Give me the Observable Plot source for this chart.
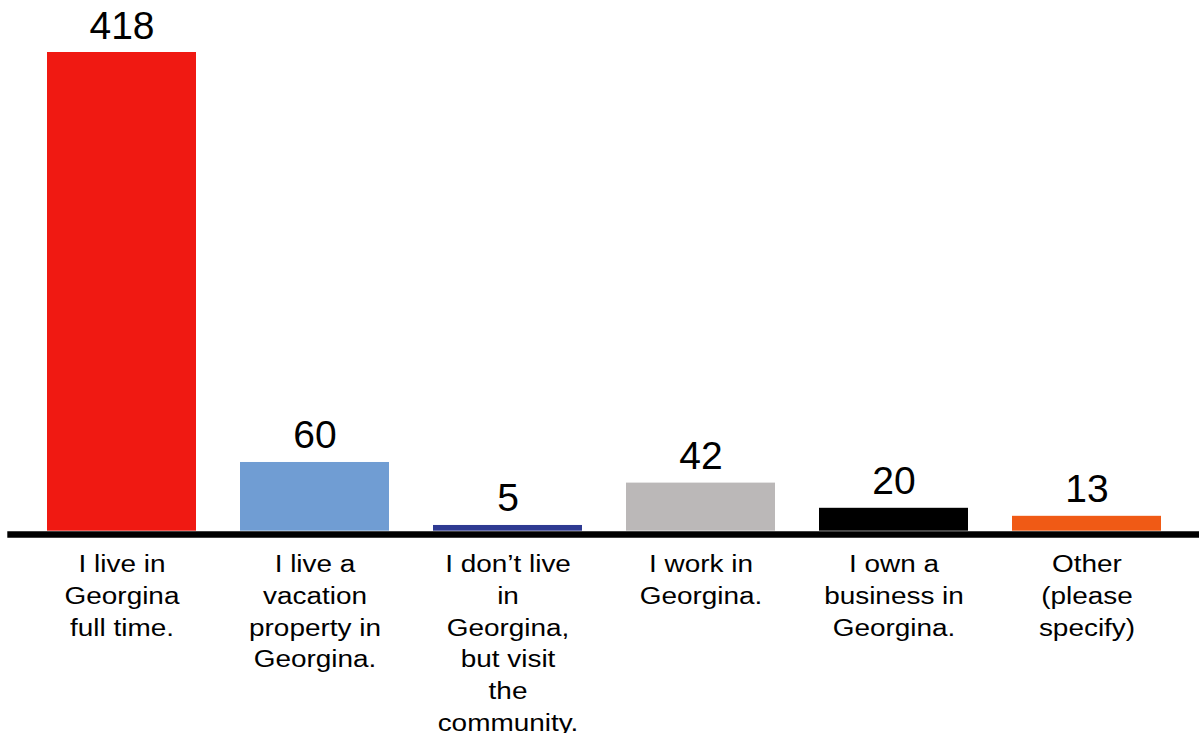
<!DOCTYPE html>
<html>
<head>
<meta charset="utf-8">
<script src="https://cdn.jsdelivr.net/npm/d3@7"></script>
<script src="https://cdn.jsdelivr.net/npm/@observablehq/plot@0.6"></script>
<style>
  html, body { margin: 0; padding: 0; background: #fff; }
  #chart { width: 1199px; height: 733px; overflow: hidden; }
</style>
</head>
<body>
<div id="chart"></div>
<script>
const categories = [
  "I live in\nGeorgina\nfull time.",
  "I live a\nvacation\nproperty in\nGeorgina.",
  "I don\u2019t live\nin\nGeorgina,\nbut visit\nthe\ncommunity.",
  "I work in\nGeorgina.",
  "I own a\nbusiness in\nGeorgina.",
  "Other\n(please\nspecify)"
];
const values = [418, 60, 5, 42, 20, 13];
const colors = ["#F01912", "#709DD3", "#2E3A92", "#BBB8B8", "#000000", "#F05A15"];

const data = categories.map((c, i) => ({category: c, value: values[i], color: colors[i]}));

const chart = Plot.plot({
  width: 1199,
  height: 733,
  marginLeft: 23.5,
  marginRight: 14.5,
  marginTop: 52,
  marginBottom: 202.3,
  style: {fontFamily: "'Liberation Sans', Arial, sans-serif", background: "#fff"},
  x: {domain: categories, paddingInner: 0.23, paddingOuter: 0.115, axis: null},
  y: {domain: [0, 418], axis: null},
  marks: [
    Plot.barY(data, {x: "category", y: "value", fill: "color"}),
    Plot.ruleY([0], {stroke: "#000", strokeWidth: 6.5, dy: 3.3, insetLeft: -16.2, insetRight: -15}),
    Plot.text(data, {x: "category", y: "value", text: d => String(d.value), lineAnchor: "bottom", dy: -14, fontSize: 39, fill: "#000"}),
    Plot.text(data, {x: "category", y: 0, text: "category", lineAnchor: "top", dy: 18.5, fontSize: 24.5, lineHeight: 1.294, fill: "#000"})
  ]
});
// the reference's category labels are horizontally stretched
d3.select(chart).selectAll("text").each(function () {
  if (!this.querySelector("tspan")) return;
  const t = this.getAttribute("transform") || "";
  this.setAttribute("transform", t + " scale(1.14,1)");
});
document.getElementById("chart").appendChild(chart);
</script>
</body>
</html>
